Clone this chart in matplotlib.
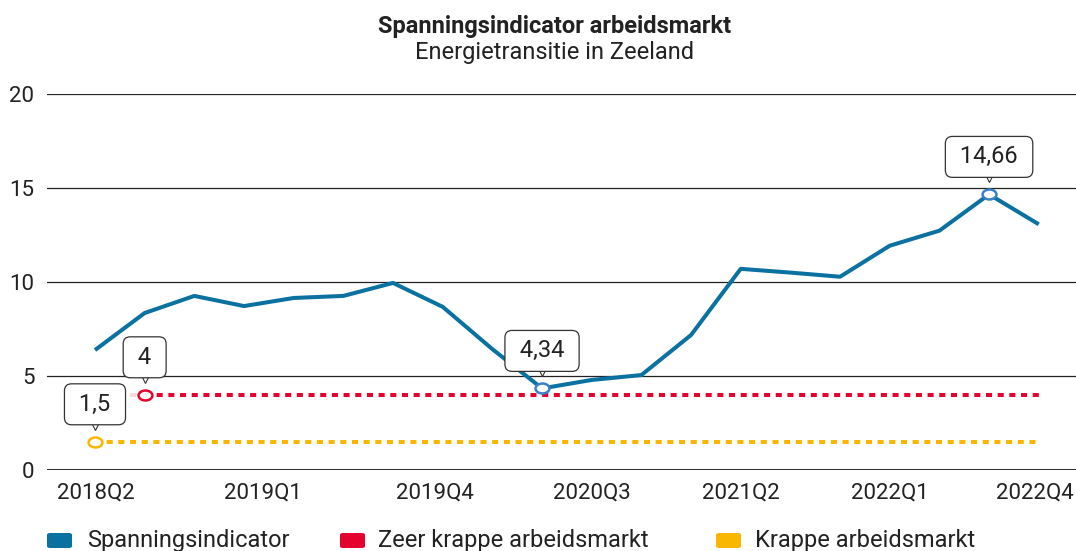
import matplotlib.pyplot as plt
from matplotlib.path import Path
from matplotlib.transforms import Affine2D
from matplotlib.patches import FancyBboxPatch

plt.rcParams['font.family'] = ['Roboto', 'DejaVu Sans']

# quarters 2018Q1 .. 2022Q4
quarters = [f"{y}Q{q}" for y in range(2018, 2023) for q in range(1, 5)]
spanning = [6.38, 8.35, 9.26, 8.72, 9.15, 9.26, 9.95, 8.68, 6.43, 4.34,
            4.79, 5.05, 7.18, 10.7, 10.5, 10.28, 11.93, 12.73, 14.66, 13.07]
zeer_krap = [4] * len(quarters)
krap = [1.5] * len(quarters)

tick_labels = ["2018Q2", "2019Q1", "2019Q4", "2020Q3", "2021Q2", "2022Q1", "2022Q4"]
tick_pos = [0.02, 3.38, 6.85, 10.0, 13.0, 16.0, 18.93]

blue = "#0b71a1"
red = "#e4032e"
yellow = "#f9b700"

x = list(range(len(quarters)))

fig = plt.figure(figsize=(10.76, 5.51), dpi=100)
ax = fig.add_axes([47 / 1076, 1 - 470 / 551, 1 - 47 / 1076, (470 - 94) / 551])

ax.set_xlim(-0.966, 19.75)
ax.set_ylim(0, 20)

for v in [5, 10, 15, 20]:
    ax.axhline(v, color="#222222", lw=0.9, zorder=1)
ax.axhline(0, color="#333333", lw=2.2, zorder=1)

for s in ax.spines.values():
    s.set_visible(False)

ax.set_yticks([0, 5, 10, 15, 20])
ax.set_yticklabels(["0", "5", "10", "15", "20"])
ax.set_xticks(tick_pos)
ax.set_xticklabels(tick_labels)
ax.tick_params(axis="both", length=0, labelsize=16, colors="#222222")
ax.tick_params(axis="y", pad=9)
ax.tick_params(axis="x", pad=9)

# threshold lines (first segment faded as in the original)
ax.plot(x[:2], zeer_krap[:2], color=red, lw=2.9, dashes=(1.5, 1.4),
        dash_capstyle="butt", alpha=0.15, zorder=2)
ax.plot(x[1:], zeer_krap[1:], color=red, lw=2.9, dashes=(1.5, 1.4),
        dash_capstyle="butt", zorder=2)
ax.plot(x, krap, color=yellow, lw=2.9, dashes=(1.5, 1.4),
        dash_capstyle="butt", zorder=2)

ax.plot(x, spanning, color=blue, lw=2.9, solid_joinstyle="round",
        solid_capstyle="butt", zorder=3)

ellipse = Path.unit_circle().transformed(Affine2D().scale(1.4, 1.0))


def callout(i, vals, color, text):
    ax.plot([x[i]], [vals[i]], marker=ellipse, ms=10, mfc="white", mec=color,
            mew=1.8, zorder=5)
    ax.plot([x[i]], [vals[i]], marker="v", ms=7, mfc="white", mec="#333333",
            mew=0.8, zorder=6, transform=ax.transData + Affine2D().translate(0, 17))
    ax.annotate(text, xy=(x[i], vals[i]), xytext=(0, 26), textcoords="offset pixels",
                ha="center", va="bottom", fontsize=17, color="#222222", zorder=7,
                bbox=dict(boxstyle="round,pad=0.38,rounding_size=0.3", fc="white",
                          ec="#333333", lw=0.9))


callout(1, zeer_krap, red, " 4 ")
callout(0, krap, yellow, " 1,5 ")
callout(9, spanning, "#3a80c8", " 4,34 ")
callout(18, spanning, "#3a80c8", " 14,66 ")

fig.text(555 / 1076, 1 - 26 / 551, "Spanningsindicator arbeidsmarkt", ha="center", va="center",
         fontsize=17, fontweight="bold", color="#222222")
fig.text(555 / 1076, 1 - 53 / 551, "Energietransitie in Zeeland", ha="center", va="center",
         fontsize=17, color="#222222")

# legend
legend_items = [("Spanningsindicator", blue, 47, 87),
                ("Zeer krappe arbeidsmarkt", red, 340, 378),
                ("Krappe arbeidsmarkt", yellow, 716, 755)]
for label, col, px, tx in legend_items:
    fig.patches.append(FancyBboxPatch((px / 1076, 1 - 548 / 551), 25 / 1076, 15 / 551,
                                      boxstyle="round,pad=0,rounding_size=0.003",
                                      transform=fig.transFigure, fc=col, ec="none"))
    fig.text(tx / 1076, 1 - 540 / 551, label, ha="left", va="center",
             fontsize=17, color="#222222")

fig.savefig("out.png", dpi=100)
